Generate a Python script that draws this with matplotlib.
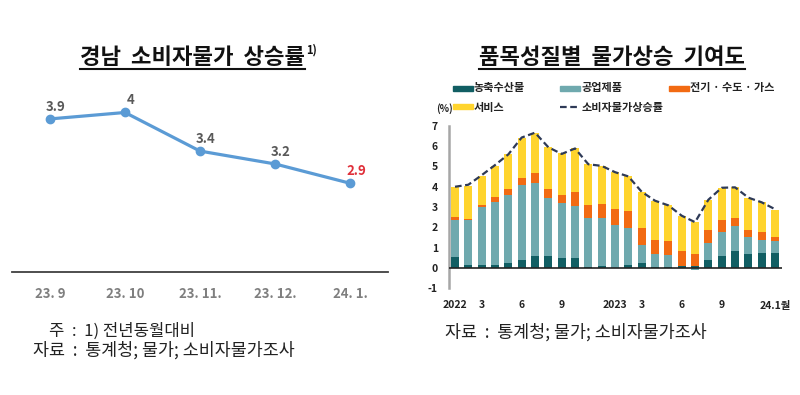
import matplotlib
matplotlib.use('Agg')
import numpy as np
import matplotlib.pyplot as plt
from matplotlib.lines import Line2D
from matplotlib.patches import Rectangle

plt.rcParams['font.family'] = ['Noto Sans CJK KR', 'DejaVu Sans']

# Left chart: Gyeongnam CPI growth
months = ['23. 9', '23. 10', '23. 11.', '23. 12.', '24. 1.']
cpi_gn = [3.9, 4.0, 3.4, 3.2, 2.9]
cpi_gn_labels = ['3.9', '4', '3.4', '3.2', '2.9']

# Right chart: contributions by item group, 2022.1 ~ 2024.1
agri = [0.54, 0.13, 0.12, 0.12, 0.25, 0.36, 0.59, 0.59, 0.46, 0.46, 0.05, 0.08, -0.03,
        0.13, 0.21, 0.05, 0.02, 0.08, 0.08, 0.36, 0.57, 0.84, 0.70, 0.74, 0.74]
industry = [1.84, 2.21, 2.86, 3.13, 3.32, 3.75, 3.59, 2.87, 2.72, 2.57, 2.41, 2.40, 2.10,
            1.84, 0.92, 0.65, 0.59, 0.02, -0.13, 0.87, 1.20, 1.24, 0.81, 0.65, 0.57]
utility = [0.12, 0.06, 0.10, 0.25, 0.30, 0.33, 0.48, 0.43, 0.41, 0.69, 0.62, 0.65, 0.82,
           0.82, 0.82, 0.69, 0.70, 0.75, 0.58, 0.62, 0.61, 0.36, 0.34, 0.38, 0.21]
service = [1.47, 1.65, 1.46, 1.53, 1.73, 1.95, 1.98, 2.06, 2.07, 2.17, 2.03, 1.90, 1.82,
           1.72, 1.80, 1.92, 1.77, 1.69, 1.59, 1.51, 1.57, 1.53, 1.61, 1.46, 1.33]
cpi_total = [4.0, 4.1, 4.57, 5.07, 5.6, 6.43, 6.67, 5.95, 5.62, 5.89, 5.11, 5.03, 4.72,
             4.51, 3.75, 3.31, 3.08, 2.57, 2.25, 3.36, 3.95, 3.97, 3.46, 3.23, 2.89]
xtick_pos = [0, 2, 5, 8, 12, 14, 17, 20, 24]
xtick_labels = ['2022', '3', '6', '9', '2023', '3', '6', '9', '24.1월']

series = [('농축수산물', agri, '#115E63'),
          ('공업제품', industry, '#6FA9AE'),
          ('전기 · 수도 · 가스', utility, '#F26A12'),
          ('서비스', service, '#FFD42E')]

W, H = 800, 395
fig = plt.figure(figsize=(8, 3.95), dpi=100)


def fx(px):
    return px / W


def fy(py):
    return 1 - py / H


# ---------------- left chart ----------------
ax1 = fig.add_axes([fx(12), fy(272), fx(376), 192 / H])
x1 = np.arange(len(months))
ax1.plot(x1, cpi_gn, '-o', color='#5B9BD5', linewidth=2.3, markersize=6)
for i, (v, s) in enumerate(zip(cpi_gn, cpi_gn_labels)):
    clr = '#E0303A' if i == len(cpi_gn) - 1 else '#595959'
    ax1.annotate(s, (i, v), xytext=(6, 12), textcoords='offset pixels', ha='center',
                 va='center', fontsize=9.5, fontweight='bold', color=clr)
ax1.set_xlim(-0.507, 4.507)
ax1.set_ylim(1.52, 4.505)
ax1.set_xticks(x1)
ax1.set_xticklabels(months, fontsize=9.5, fontweight='bold', color='#7F7F7F')
ax1.tick_params(axis='x', length=0, pad=11)
ax1.set_yticks([])
for sp in ['top', 'left', 'right']:
    ax1.spines[sp].set_visible(False)
ax1.spines['bottom'].set_color('#404040')
ax1.spines['bottom'].set_linewidth(1.3)
ax1.patch.set_alpha(0)

# ---------------- right chart ----------------
ax2 = fig.add_axes([fx(449), fy(288), fx(333), 162 / H])
x2 = np.arange(len(cpi_total))
pos_bottom = np.zeros(len(x2))
neg_bottom = np.zeros(len(x2))
for name, vals, clr in series:
    vals = np.array(vals)
    bottom = np.where(vals >= 0, pos_bottom, neg_bottom)
    ax2.bar(x2, vals, 0.6, bottom=bottom, color=clr, linewidth=0)
    pos_bottom += np.where(vals >= 0, vals, 0)
    neg_bottom += np.where(vals < 0, vals, 0)
ax2.plot(x2, cpi_total, color='#2E3A57', linewidth=1.6, linestyle=(0, (3, 1.6)))
ax2.axhline(0, color='#222222', linewidth=1.2, zorder=3)
ax2.set_xlim(-0.45, 24.52)
ax2.set_ylim(-1, 7)
ax2.set_yticks(range(-1, 8))
ax2.set_yticklabels([str(v) for v in range(-1, 8)], fontsize=7.5, fontweight='bold',
                    color='#222222')
ax2.set_xticks(xtick_pos)
ax2.set_xticklabels(xtick_labels, fontsize=7.5, fontweight='bold', color='#222222')
ax2.tick_params(axis='both', length=0)
ax2.tick_params(axis='x', pad=9)
ax2.tick_params(axis='y', pad=8)
for sp in ['top', 'right', 'bottom']:
    ax2.spines[sp].set_visible(False)
ax2.spines['left'].set_color('#A6A6A6')
ax2.spines['left'].set_linewidth(1.8)
ax2.patch.set_alpha(0)
fig.text(fx(444), fy(109), '(%)', fontsize=7, fontweight='bold', color='#222222',
         ha='center', va='center')

# manual legend, two rows like the original
leg_pos = [(453, 88), (560, 88), (669, 88), (453, 107)]
for (name, vals, clr), (lx, ly) in zip(series, leg_pos):
    fig.patches.append(Rectangle((fx(lx), fy(ly + 2.5)), fx(20), 5 / H, color=clr,
                                 transform=fig.transFigure, figure=fig))
    fig.text(fx(lx + 21), fy(ly), name, fontsize=8, fontweight='bold', color='#222222',
             ha='left', va='center')
fig.lines.append(Line2D([fx(560), fx(580)], [fy(107), fy(107)], color='#2E3A57',
                        linewidth=1.6, linestyle=(0, (3, 1.6)), transform=fig.transFigure))
fig.text(fx(582), fy(107), '소비자물가상승률', fontsize=8, fontweight='bold',
         color='#222222', ha='left', va='center')

# ---------------- titles and notes ----------------
t1 = fig.text(fx(192), fy(57), '경남  소비자물가  상승률', fontsize=16, fontweight='bold',
              ha='center', va='center', color='#111111')
t2 = fig.text(fx(612), fy(57), '품목성질별  물가상승  기여도', fontsize=16,
              fontweight='bold', ha='center', va='center', color='#111111')

fig.text(fx(49), fy(331), '주  :  1) 전년동월대비', fontsize=12, ha='left', va='center',
         color='#222222')
fig.text(fx(33), fy(350), '자료  :  통계청; 물가; 소비자물가조사', fontsize=12.5,
         ha='left', va='center', color='#222222')
fig.text(fx(445), fy(332), '자료  :  통계청; 물가; 소비자물가조사', fontsize=12.5,
         ha='left', va='center', color='#222222')

# underline titles + superscript
fig.canvas.draw()
r = fig.canvas.get_renderer()
for t in (t1, t2):
    bb = t.get_window_extent(r)
    fig.lines.append(Line2D([bb.x0 / W, bb.x1 / W], [fy(69), fy(69)], color='#111111',
                            linewidth=1.5, transform=fig.transFigure))
bb = t1.get_window_extent(r)
fig.text(bb.x1 / W + 0.002, fy(50), '1)', fontsize=8, fontweight='bold', ha='left',
         va='center', color='#111111')

fig.savefig('out.png', dpi=100, facecolor='white')
